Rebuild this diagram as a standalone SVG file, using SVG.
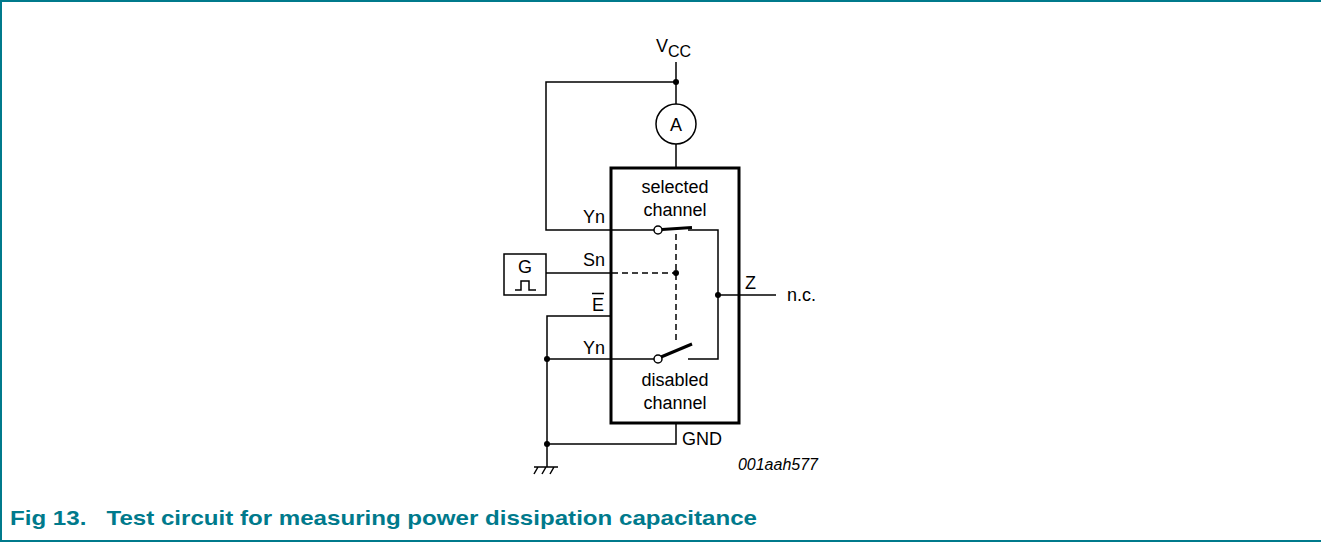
<svg xmlns="http://www.w3.org/2000/svg" width="1321" height="542" viewBox="0 0 1321 542">
<style>
.w{fill:none;stroke:#000;stroke-width:1.5}
.d{fill:none;stroke:#000;stroke-width:1.5;stroke-dasharray:6,4}
.k{fill:none;stroke:#000;stroke-width:3}
.t{font-family:"Liberation Sans",Arial,sans-serif;font-size:18px;fill:#000}
.dot{fill:#000}
</style>
<rect width="1321" height="542" fill="#fff"/>
<path d="M1,542 V1 H1321 M0,541 H1321" fill="none" stroke="#007A8C" stroke-width="2"/>
<g id="connectors">
<path class="w" d="M676,62 V104 M676,144 V168"/>
<path class="w" d="M676,82 H546 V230 H654"/>
<path class="w" d="M546,273 H612"/>
<path class="d" d="M612,273 H676"/>
<path class="d" d="M676,234 V342"/>
<path class="w" d="M688,230 H718 V359 H688"/>
<path class="w" d="M718,295 H776"/>
<path class="w" d="M612,316 H547 V467"/>
<path class="w" d="M547,359 H654"/>
<path class="w" d="M676,424 V444 H547"/>
<path class="w" d="M534,467 H558 M538,467 L534,474 M546,467 L542,474 M554,467 L550,474"/>
<circle class="dot" cx="676" cy="82" r="3"/>
<circle class="dot" cx="676" cy="273" r="3"/>
<circle class="dot" cx="718" cy="295" r="3"/>
<circle class="dot" cx="547" cy="359" r="3"/>
<circle class="dot" cx="547" cy="444" r="3"/>
</g>
<g id="vcc"><text class="t" x="656" y="52">V<tspan font-size="16" dy="5">CC</tspan></text></g>
<g id="ammeter">
<circle class="w" cx="676" cy="124" r="20"/>
<text class="t" x="676" y="131" text-anchor="middle">A</text>
</g>
<g id="chip">
<rect class="k" x="611" y="168" width="128" height="255"/>
<text class="t" x="675" y="193" text-anchor="middle">selected</text>
<text class="t" x="675" y="216" text-anchor="middle">channel</text>
<text class="t" x="675" y="386" text-anchor="middle">disabled</text>
<text class="t" x="675" y="409" text-anchor="middle">channel</text>
<text class="t" x="605" y="223" text-anchor="end">Yn</text>
<text class="t" x="605" y="266" text-anchor="end">Sn</text>
<text class="t" x="604" y="311" text-anchor="end">E</text>
<path class="w" d="M592,293.5 H604" stroke-width="1.2"/>
<text class="t" x="605" y="354" text-anchor="end">Yn</text>
<text class="t" x="745" y="289">Z</text>
<text class="t" x="682" y="445">GND</text>
</g>
<g id="switch-selected">
<circle cx="658" cy="230" r="4" fill="#fff" stroke="#000" stroke-width="1.5"/>
<path class="k" d="M662,229.5 L692,227.5"/>
</g>
<g id="switch-disabled">
<circle cx="658" cy="359" r="4" fill="#fff" stroke="#000" stroke-width="1.5"/>
<path class="k" d="M661,357 L692,344"/>
</g>
<g id="generator">
<rect class="w" x="504" y="254" width="42" height="41"/>
<text class="t" x="525" y="273" text-anchor="middle">G</text>
<path class="w" d="M515,290 H521 V281 H529 V290 H536" stroke-width="1.3"/>
</g>
<g id="nc"><text class="t" x="787" y="301">n.c.</text></g>
<text x="818" y="470" text-anchor="end" font-family="Liberation Sans,Arial,sans-serif" font-style="italic" font-size="16">001aah577</text>
<text x="10" y="525" font-family="Liberation Sans,Arial,sans-serif" font-weight="bold" font-size="21" fill="#007A8C" xml:space="preserve" textLength="747" lengthAdjust="spacingAndGlyphs">Fig 13.   Test circuit for measuring power dissipation capacitance</text>
</svg>
